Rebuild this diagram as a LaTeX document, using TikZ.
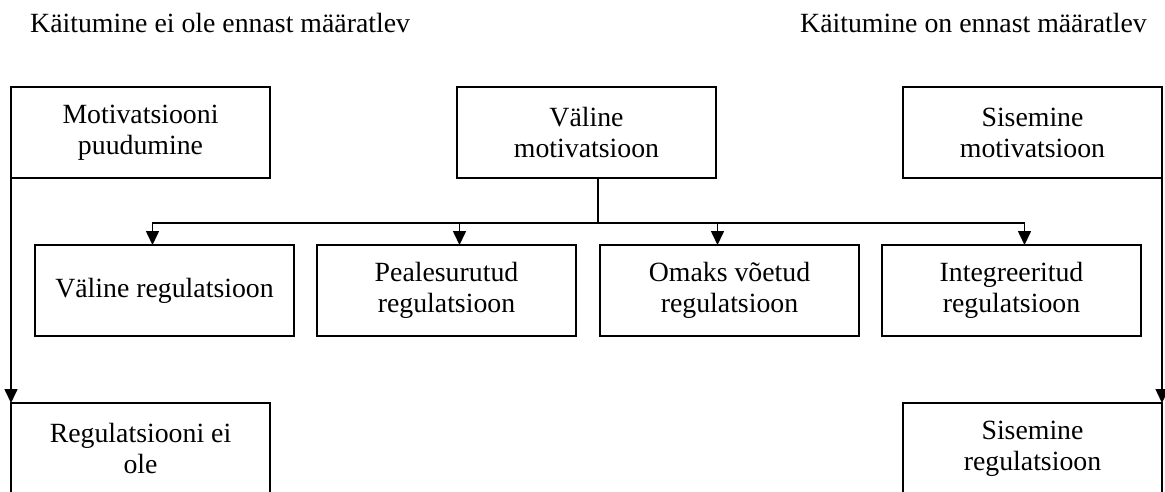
\documentclass[tikz,border=0pt]{standalone}
\usepackage{fontspec}
\setmainfont{Liberation Serif}
\usetikzlibrary{arrows.meta,positioning}

\begin{document}
\begin{tikzpicture}[
    x=1pt, y=-1pt,
    node distance=23pt,
    box/.style={rectangle, draw=black, line width=1.6pt, minimum width=259pt, minimum height=91pt, inner sep=2pt, outer sep=0pt, align=center, font=\fontsize{27.8}{31}\selectfont},
    heading/.style={anchor=base west, inner sep=0pt, font=\fontsize{27.8}{31}\selectfont},
    arrow/.style={-{Triangle[width=13pt,length=14pt]}, line width=1.6pt},
    link/.style={line width=1.6pt}
]
    \useasboundingbox (0,0) rectangle (1165,491);
    \clip (0,0) rectangle (1165,491);

    % Headings
    \node[heading] (nondet) at (30,32) {Käitumine ei ole ennast määratlev};
    \node[heading] (selfdet) at (800,32) {Käitumine on ennast määratlev};

    % Motivation
    \node[box, anchor=north west] (amot) at (11,87) {Motivatsiooni\\puudumine};
    \node[box, anchor=north west] (extmot) at (457,87) {Väline\\motivatsioon};
    \node[box, anchor=north west] (intmot) at (903,87) {Sisemine\\motivatsioon};

    % Regulation styles
    \node[box, anchor=north west] (extreg) at (35,245) {Väline regulatsioon};
    \node[box, right=of extreg] (introreg) {Pealesurutud\\regulatsioon};
    \node[box, right=24pt of introreg] (identreg) {Omaks võetud\\regulatsioon};
    \node[box, right=of identreg] (integreg) {Integreeritud\\regulatsioon};

    % Regulation
    \node[box, anchor=north west] (noreg) at (11,403) {Regulatsiooni ei\\ole};
    \node[box, anchor=north west] (intreg) at (903,403) {Sisemine\\regulatsioon};

    % Arrows
    \draw[arrow] (amot.south west) -- (noreg.north west);
    \draw[arrow] (intmot.south east) -- (intreg.north east);
    \coordinate (fork) at (598,223);
    \draw[link] (extmot.south -| fork) -- (fork);
    \draw[arrow] (fork) -| ([xshift=-12pt]extreg.north);
    \draw[arrow] (fork) -| ([xshift=13pt]introreg.north);
    \draw[arrow] (fork) -| ([xshift=-12pt]identreg.north);
    \draw[arrow] (fork) -| ([xshift=13pt]integreg.north);
\end{tikzpicture}
\end{document}
